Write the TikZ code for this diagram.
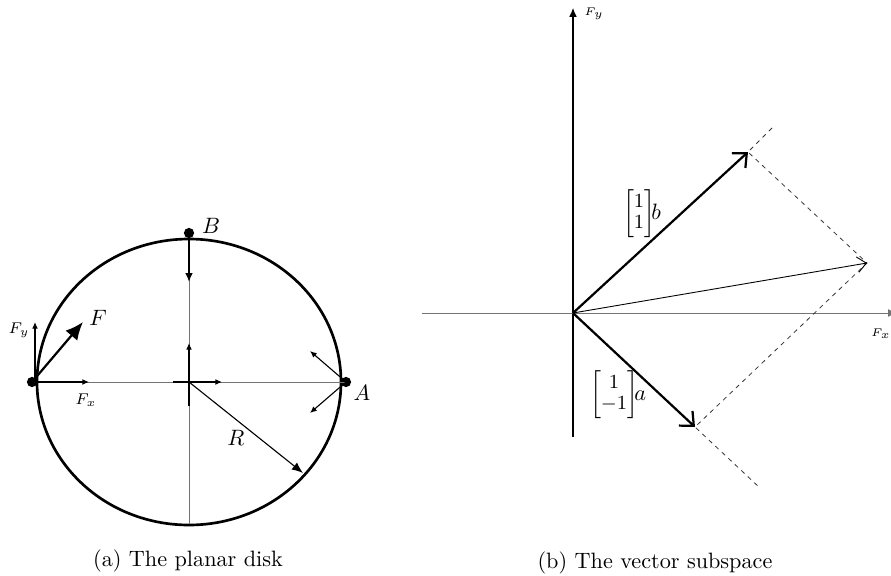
\documentclass[tikz,border=0pt]{standalone}
\usepackage{xcolor}
\usepackage{amsmath}
\usetikzlibrary{arrows.meta, positioning, calc}
\tikzstyle{rim} = [line width=1.2pt]
\tikzstyle{axis} = [draw=black!55, line width=0.4pt]
\tikzstyle{smallarrow} = [-{Latex[length=3pt,width=2.6pt]}, line width=0.5pt]
\tikzstyle{force} = [-{Latex[length=8pt,width=7pt]}, line width=1pt]
\tikzstyle{radius} = [-{Latex[length=5pt,width=4pt]}, line width=0.5pt]
\tikzstyle{vec} = [-{Straight Barb[length=5pt,width=9pt]}, line width=1pt]
\tikzstyle{sumvec} = [-{Straight Barb[length=4pt,width=7pt]}, line width=0.4pt]
\tikzstyle{proj} = [dash pattern=on 2pt off 2pt, line width=0.35pt, black!80]
\tikzstyle{dot} = [circle, fill, inner sep=0pt, minimum size=4.6pt]
\tikzstyle{coef} = [execute at begin node={\renewcommand{\arraystretch}{0.85}}]

\begin{document}
\begin{tikzpicture}[x=0.45pt, y=-0.45pt]
    \useasboundingbox (0,0) rectangle (891,576);

    % (a) planar disk
    \coordinate (O) at (189,382);
    \coordinate (bot) at (189,524);
    \node (A) [dot] at (346,382) {};
    \node (B) [dot] at (189,233) {};
    \node (L) [dot] at (32,382) {};
    \draw[rim] (O) ellipse [x radius=152, y radius=143];
    \draw[axis] (L.center) -- (A.center);
    \draw[axis] (B.center) -- (bot);
    \coordinate (Bdown) at (189,282);
    \draw[-{Latex[length=4pt,width=3.5pt]}, line width=0.9pt] (B.center) -- (Bdown);
    % small frame at the centre
    \coordinate (Ox0) at (173,382);
    \coordinate (Ox1) at (222,382);
    \coordinate (Oy0) at (189,406);
    \coordinate (Oy1) at (189,343);
    \draw[smallarrow] (Ox0) -- (Ox1);
    \draw[smallarrow] (Oy0) -- (Oy1);
    % force at the left point
    \coordinate (Fx) at (89,382);
    \coordinate (Fy0) at (35,382);
    \coordinate (Fy) at (35,322);
    \coordinate (Ftip) at (83,322);
    \draw[smallarrow] (L.center) -- (Fx);
    \draw[smallarrow] (Fy0) -- (Fy);
    \draw[force] (L.center) -- (Ftip);
    \node (labFx) at (86,400) {\scriptsize $F_x$};
    \node (labFy) at (19,330) {\scriptsize $F_y$};
    \node (labF) at (98,318) {$F$};
    % point A
    \coordinate (Aup) at (310,351);
    \coordinate (Adown) at (310,413);
    \draw[smallarrow] (A.center) -- (Aup);
    \draw[smallarrow] (A.center) -- (Adown);
    \node (labA) at (362,393) {$A$};
    \node (labB) at (211,226) {$B$};
    % radius
    \coordinate (Rtip) at (303,473);
    \draw[radius] (O) -- (Rtip);
    \node (labR) at (236,438) {$R$};
    \node (capa) at (188,561) {(a) The planar disk};

    % (b) vector subspace
    \coordinate (P) at (573,313);
    \coordinate (ybot) at (573,437);
    \coordinate (ytop) at (573,8);
    \coordinate (xleft) at (422,313);
    \coordinate (xright) at (897,313);
    \draw[-{Latex[length=4pt,width=3.5pt]}, line width=0.5pt] (ybot) -- (ytop);
    \draw[axis, -{Latex[length=4pt,width=3.5pt]}] (xleft) -- (xright);
    \node (labFyb) at (594,14) {\tiny $F_y$};
    \node (labFxb) at (881,334) {\tiny $F_x$};
    \coordinate (btip) at (748,152);
    \coordinate (atip) at (695,427);
    \coordinate (stip) at (867,263);
    \coordinate (bext) at (772,128);
    \coordinate (aext) at (760,488);
    \draw[proj] (bext) -- (btip) -- (stip) -- (atip) -- (aext);
    \draw[vec] (P) -- (btip);
    \draw[vec] (P) -- (atip);
    \draw[sumvec] (P) -- (stip);
    \node (labb) [coef] at (642,214) {{\small$\begin{bmatrix}1\\1\end{bmatrix}$}$\!b$};
    \node (laba) [coef] at (618,395) {{\small$\begin{bmatrix}1\\-1\end{bmatrix}$}$\!a$};
    \node (capb) at (655,563) {(b) The vector subspace};
\end{tikzpicture}
\end{document}
